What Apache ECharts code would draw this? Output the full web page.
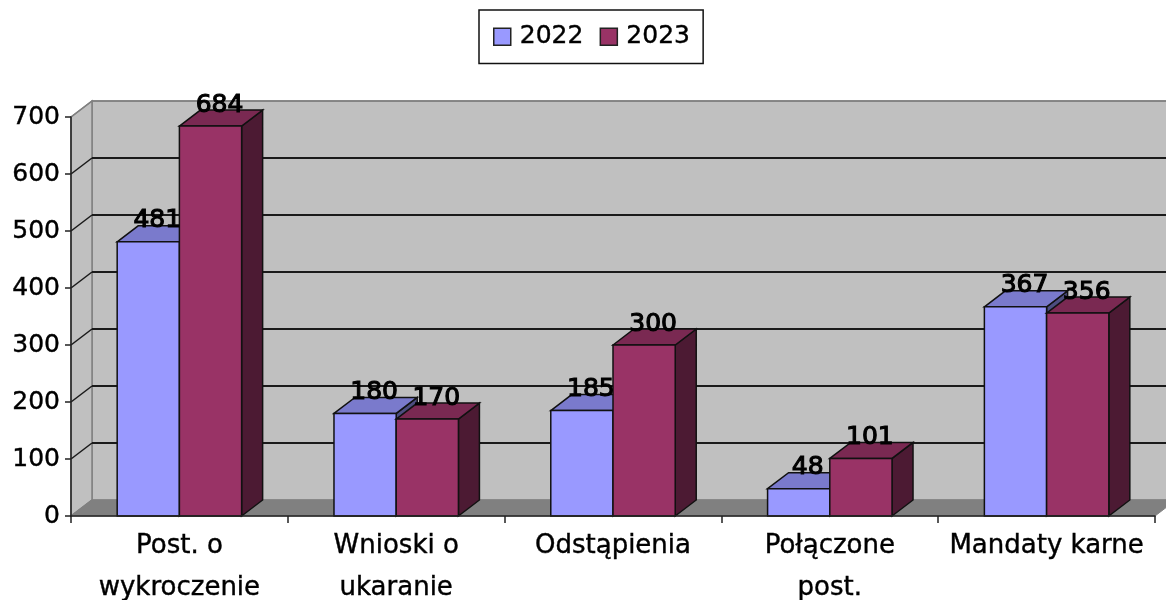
<!DOCTYPE html>
<html>
<head>
<meta charset="utf-8">
<style>
  html, body { margin: 0; padding: 0; background: #ffffff; }
  #chart { width: 1166px; height: 600px; overflow: hidden; }
</style>
</head>
<body>
<div id="chart"></div>
<script src="https://cdn.jsdelivr.net/npm/echarts@6/dist/echarts.min.js"></script>
<script>
  const categories = ['Post. o\nwykroczenie', 'Wnioski o\nukaranie', 'Odstąpienia', 'Połączone\npost.', 'Mandaty karne'];
  const values2022 = [481, 180, 185, 48, 367];
  const values2023 = [684, 170, 300, 101, 356];
  const tickValues = [0, 100, 200, 300, 400, 500, 600, 700];

  const FONT = '"DejaVu Sans", sans-serif';
  const DX = 21;
  const DY = -16;
  const BAR_RATIO = 0.287;

  const poly = (points, fill, stroke, lineWidth) => ({
    type: 'polygon',
    shape: { points },
    style: { fill, stroke, lineWidth },
  });

  const line = (x1, y1, x2, y2, stroke, lineWidth) => ({
    type: 'line',
    shape: { x1, y1, x2, y2 },
    style: { stroke, lineWidth },
  });

  // back wall, side wall, floor, and the grid lines running over them
  const renderWall = (params, api) => {
    const cs = params.coordSys;
    const tick = api.value(0);
    const y = api.coord([0, tick])[1];
    const left = cs.x;
    const right = cs.x + cs.width;
    const children = [];
    if (tick === 0) {
      const top = cs.y;
      const bottom = cs.y + cs.height;
      children.push(
        poly([[left + DX, top + DY], [right + DX, top + DY], [right + DX, bottom + DY], [left + DX, bottom + DY]], '#c0c0c0', '#808080', 1.5),
        poly([[left, top], [left + DX, top + DY], [left + DX, bottom + DY], [left, bottom]], '#c0c0c0', '#808080', 1.5),
        poly([[left, bottom], [left + DX, bottom + DY], [right + DX, bottom + DY], [right, bottom]], '#808080', '#808080', 1)
      );
    }
    const edge = tick === 0 || tick === 700;
    const color = edge ? '#808080' : '#1a1a1a';
    if (tick !== 0) {
      children.push(line(left + DX, y + DY, right + DX, y + DY, color, edge ? 1.5 : 2));
    }
    children.push(line(left, y, left + DX, y + DY, color, 1.5));
    return { type: 'group', children };
  };

  const renderBar = (front, top, side, slot) => (params, api) => {
    const base = api.coord([api.value(0), 0]);
    const peak = api.coord([api.value(0), api.value(1)]);
    const w = api.size([1, 0])[0] * BAR_RATIO;
    const x0 = base[0] + slot * w;
    const x1 = x0 + w;
    const yb = base[1];
    const yt = peak[1];
    return {
      type: 'group',
      children: [
        poly([[x1, yb], [x1 + DX, yb + DY], [x1 + DX, yt + DY], [x1, yt]], side, '#111111', 1.5),
        poly([[x0, yt], [x0 + DX, yt + DY], [x1 + DX, yt + DY], [x1, yt]], top, '#111111', 1.5),
        poly([[x0, yb], [x1, yb], [x1, yt], [x0, yt]], front, '#111111', 1.5),
      ],
    };
  };

  const renderLabel = (slot) => (params, api) => {
    const peak = api.coord([api.value(0), api.value(1)]);
    const w = api.size([1, 0])[0] * BAR_RATIO;
    return {
      type: 'text',
      style: {
        x: peak[0] + (slot + 0.5) * w + 9,
        y: peak[1] - 21,
        text: String(api.value(1)),
        fill: '#000000',
        stroke: '#000000',
        lineWidth: 1.1,
        font: '25px ' + FONT,
        align: 'center',
        verticalAlign: 'middle',
      },
    };
  };

  const toPairs = (values) => values.map((v, i) => [i, v]);

  const myChart = echarts.init(document.getElementById('chart'), null, { renderer: 'canvas' });
  myChart.setOption({
    animation: false,
    backgroundColor: '#ffffff',
    legend: {
      left: 479,
      top: 10,
      padding: [14, 13, 14, 14],
      itemGap: 16,
      itemWidth: 17,
      itemHeight: 17,
      icon: 'rect',
      backgroundColor: '#ffffff',
      borderColor: '#111111',
      borderWidth: 1.5,
      itemStyle: { borderColor: '#222222', borderWidth: 1.5 },
      textStyle: { color: '#000000', fontFamily: FONT, fontSize: 25, textBorderColor: '#000000', textBorderWidth: 0.4, padding: [0, 0, 0, 4] },
      data: ['2022', '2023'],
    },
    grid: { left: 71, right: 11, top: 117, bottom: 84, outerBoundsMode: 'none' },
    xAxis: {
      type: 'category',
      data: categories,
      z: 10,
      axisLine: { lineStyle: { color: '#222222', width: 1.5 } },
      axisTick: { show: true, length: 7, lineStyle: { color: '#222222', width: 1.5 } },
      axisLabel: { color: '#000000', fontFamily: FONT, fontSize: 26, textBorderColor: '#000000', textBorderWidth: 0.4, lineHeight: 42, margin: 9, interval: 0, hideOverlap: false },
      splitLine: { show: false },
    },
    yAxis: {
      type: 'value',
      min: 0,
      max: 700,
      interval: 100,
      z: 10,
      axisLine: { show: true, lineStyle: { color: '#222222', width: 1.5 } },
      axisTick: { show: true, length: 6, lineStyle: { color: '#222222', width: 1.5 } },
      axisLabel: { color: '#000000', fontFamily: FONT, fontSize: 25, textBorderColor: '#000000', textBorderWidth: 0.4, margin: 11 },
      splitLine: { show: false },
    },
    series: [
      { name: 'wall', type: 'custom', z: 1, renderItem: renderWall, data: tickValues.map((v) => [v]), encode: { y: 0 } },
      {
        name: '2022',
        type: 'custom',
        z: 2,
        itemStyle: { color: '#9999ff' },
        renderItem: renderBar('#9999ff', '#7a7acc', '#4d4d80', -1),
        encode: { x: 0, y: 1 },
        data: toPairs(values2022),
      },
      {
        name: '2023',
        type: 'custom',
        z: 3,
        itemStyle: { color: '#993366' },
        renderItem: renderBar('#993366', '#7a2952', '#4c1a33', 0),
        encode: { x: 0, y: 1 },
        data: toPairs(values2023),
      },
      { name: 'labels2022', type: 'custom', z: 5, renderItem: renderLabel(-1), encode: { x: 0, y: 1 }, data: toPairs(values2022) },
      { name: 'labels2023', type: 'custom', z: 5, renderItem: renderLabel(0), encode: { x: 0, y: 1 }, data: toPairs(values2023) },
    ],
  });
</script>
</body>
</html>
